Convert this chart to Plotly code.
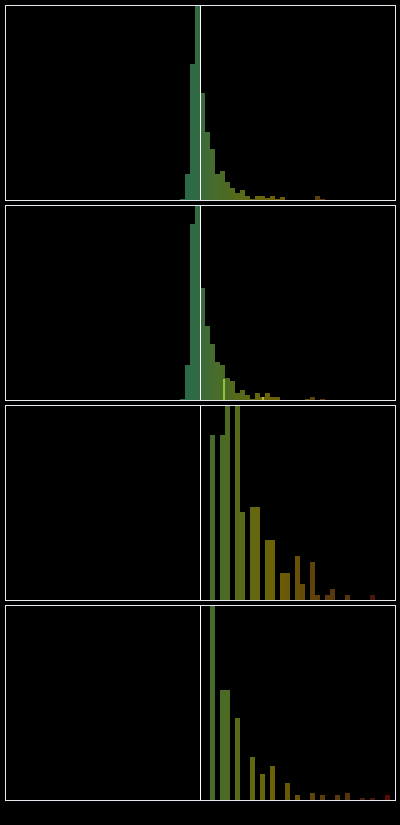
import plotly.graph_objects as go
from plotly.subplots import make_subplots

# bin left edges (units of one bin) and counts for each panel
bins1 = [-4, -3, -2, -1, 0, 1, 2, 3, 4, 5, 6, 7, 8, 9, 10, 11, 12, 13, 14, 15, 16, 23, 24]
vals1 = [0.6, 26, 136, 210, 107, 68, 51, 26, 29, 18, 12, 7, 10, 4, 1, 4, 4, 2, 4, 1, 3, 4, 1]

bins2 = [-4, -3, -2, -1, 0, 1, 2, 3, 4, 5, 6, 7, 8, 9, 10, 11, 12, 13, 14, 15, 21, 22, 24]
vals2 = [1, 35, 176, 210, 112, 74, 56, 38, 35, 22, 19, 7, 10, 5, 1, 7, 3, 7, 3, 3, 1, 3, 1]
marks2_x = [4.85, 12.55]
marks2_v = [21, 3]
marks2_c = ["#86c83c", "#b4b43a"]

bins3 = [2, 4, 5, 7, 8, 10, 11, 13, 14, 16, 17, 19, 20, 22, 23, 25, 26, 29, 34]
vals3 = [30, 30, 40, 40, 16, 17, 17, 11, 11, 5, 5, 8, 3, 7, 1, 1, 2, 1, 1]

bins4 = [2, 4, 5, 7, 10, 12, 14, 17, 19, 22, 24, 27, 29, 32, 34, 37]
vals4 = [90, 46, 46, 34, 18, 11, 14, 7, 2, 3, 2, 2, 3, 1, 1, 2]

y_tops = [194, 194, 35.3, 80.8]

# colour ramp along x (bin position -> colour)
ramp_k = [-5, -1, 2, 5, 8, 11, 14, 17, 20, 23, 26, 29, 32, 34, 38]
ramp_c = ["#2a6a4c", "#2e6a44", "#446d30", "#4c6a24", "#586a18", "#646610",
          "#6b6306", "#6a5a06", "#664e08", "#5c420a", "#58380c", "#5c380c",
          "#4a220e", "#48180c", "#560c06"]

def hex2rgb(h):
    return tuple(int(h[i:i + 2], 16) for i in (1, 3, 5))

def col(k):
    if k <= ramp_k[0]:
        return ramp_c[0]
    for i in range(len(ramp_k) - 1):
        a, b = ramp_k[i], ramp_k[i + 1]
        if a <= k <= b:
            t = (k - a) / (b - a)
            ca, cb = hex2rgb(ramp_c[i]), hex2rgb(ramp_c[i + 1])
            c = [round(ca[j] + (cb[j] - ca[j]) * t) for j in range(3)]
            return "rgb(%d,%d,%d)" % tuple(c)
    return ramp_c[-1]

fig = make_subplots(rows=4, cols=1, vertical_spacing=6 / 794)

panels = [(bins1, vals1), (bins2, vals2), (bins3, vals3), (bins4, vals4)]
for i, (b, v) in enumerate(panels):
    xs = [k + 0.5 for k in b]
    fig.add_trace(go.Bar(x=xs, y=v, width=1,
                         marker=dict(color=[col(k + 0.5) for k in b], line=dict(width=0)),
                         showlegend=False, hoverinfo="skip"), row=i + 1, col=1)
    if i == 1:
        fig.add_trace(go.Bar(x=marks2_x, y=marks2_v, width=0.2,
                             marker=dict(color=marks2_c, line=dict(width=0)),
                             showlegend=False, hoverinfo="skip"), row=2, col=1)
    fig.update_xaxes(range=[-38.9, 39.1], showticklabels=False, showgrid=False,
                     zeroline=False, showline=True, mirror=True,
                     linecolor="#e4e8f0", linewidth=1, row=i + 1, col=1)
    fig.update_yaxes(range=[0, y_tops[i]], showticklabels=False, showgrid=False,
                     zeroline=False, showline=True, mirror=True,
                     linecolor="#e4e8f0", linewidth=1, row=i + 1, col=1)
    xref = "x" if i == 0 else "x%d" % (i + 1)
    yref = "y domain" if i == 0 else "y%d domain" % (i + 1)
    fig.add_shape(type="line", x0=0.1, x1=0.1, y0=0, y1=1, xref=xref, yref=yref,
                  line=dict(color="white", width=1), layer="above")

fig.update_layout(width=400, height=825, margin=dict(l=6, r=5, t=6, b=25),
                  paper_bgcolor="black", plot_bgcolor="black",
                  bargap=0, barmode="overlay")

fig.write_html("out.html")
